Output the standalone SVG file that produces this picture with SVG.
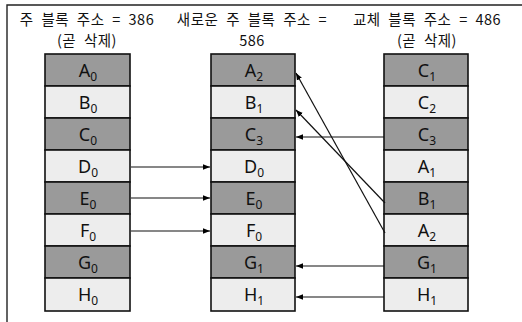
<svg xmlns="http://www.w3.org/2000/svg" width="522" height="322" viewBox="0 0 522 322">
<defs>
<marker id="ah" viewBox="0 0 10 10" refX="10" refY="5" markerWidth="7" markerHeight="7" orient="auto" markerUnits="userSpaceOnUse">
<path d="M0,1 L10,5 L0,9 z" fill="#000"/>
</marker>
</defs>
<style>
.t{font-family:"Noto Sans CJK KR","Noto Sans",sans-serif;font-size:14.5px;fill:#111;text-anchor:middle;word-spacing:4px;letter-spacing:0.5px}
.l{font-family:"Noto Sans","Liberation Sans",sans-serif;font-size:18px;fill:#111;text-anchor:middle}
.s{font-size:12px}
.d{fill:#9a9a9a;stroke:#111;stroke-width:1.6}
.w{fill:#ededed;stroke:#111;stroke-width:1.6}
.c{stroke:#111;stroke-width:1.2;fill:none;marker-end:url(#ah)}
</style>
<rect width="522" height="322" fill="#fff"/>
<path d="M7,322 V5 H522" fill="none" stroke="#222" stroke-width="1.4"/>
<g id="titles">
<text class="t" x="87" y="25">주 블록 주소 = 386</text>
<text class="t" x="87" y="46">(곧 삭제)</text>
<text class="t" x="252" y="25">새로운 주 블록 주소 =</text>
<text class="t" x="252" y="46">586</text>
<text class="t" x="427" y="25">교체 블록 주소 = 486</text>
<text class="t" x="427" y="46">(곧 삭제)</text>
</g>
<g id="main-old">
<rect class="d" x="45" y="54" width="85" height="32"/><text class="l" x="88" y="77">A<tspan class="s" dy="4">0</tspan></text>
<rect class="w" x="45" y="86" width="85" height="32"/><text class="l" x="88" y="109">B<tspan class="s" dy="4">0</tspan></text>
<rect class="d" x="45" y="118" width="85" height="32"/><text class="l" x="88" y="141">C<tspan class="s" dy="4">0</tspan></text>
<rect class="w" x="45" y="150" width="85" height="32"/><text class="l" x="88" y="173">D<tspan class="s" dy="4">0</tspan></text>
<rect class="d" x="45" y="182" width="85" height="32"/><text class="l" x="88" y="205">E<tspan class="s" dy="4">0</tspan></text>
<rect class="w" x="45" y="214" width="85" height="32"/><text class="l" x="88" y="237">F<tspan class="s" dy="4">0</tspan></text>
<rect class="d" x="45" y="246" width="85" height="32"/><text class="l" x="88" y="269">G<tspan class="s" dy="4">0</tspan></text>
<rect class="w" x="45" y="278" width="85" height="33"/><text class="l" x="88" y="301">H<tspan class="s" dy="4">0</tspan></text>
</g>
<g id="main-new">
<rect class="d" x="211" y="54" width="84" height="32"/><text class="l" x="254" y="77">A<tspan class="s" dy="4">2</tspan></text>
<rect class="w" x="211" y="86" width="84" height="32"/><text class="l" x="254" y="109">B<tspan class="s" dy="4">1</tspan></text>
<rect class="d" x="211" y="118" width="84" height="32"/><text class="l" x="254" y="141">C<tspan class="s" dy="4">3</tspan></text>
<rect class="w" x="211" y="150" width="84" height="32"/><text class="l" x="254" y="173">D<tspan class="s" dy="4">0</tspan></text>
<rect class="d" x="211" y="182" width="84" height="32"/><text class="l" x="254" y="205">E<tspan class="s" dy="4">0</tspan></text>
<rect class="w" x="211" y="214" width="84" height="32"/><text class="l" x="254" y="237">F<tspan class="s" dy="4">0</tspan></text>
<rect class="d" x="211" y="246" width="84" height="32"/><text class="l" x="254" y="269">G<tspan class="s" dy="4">1</tspan></text>
<rect class="w" x="211" y="278" width="84" height="33"/><text class="l" x="254" y="301">H<tspan class="s" dy="4">1</tspan></text>
</g>
<g id="replacement">
<rect class="d" x="384" y="54" width="84" height="32"/><text class="l" x="427" y="77">C<tspan class="s" dy="4">1</tspan></text>
<rect class="w" x="384" y="86" width="84" height="32"/><text class="l" x="427" y="109">C<tspan class="s" dy="4">2</tspan></text>
<rect class="d" x="384" y="118" width="84" height="32"/><text class="l" x="427" y="141">C<tspan class="s" dy="4">3</tspan></text>
<rect class="w" x="384" y="150" width="84" height="32"/><text class="l" x="427" y="173">A<tspan class="s" dy="4">1</tspan></text>
<rect class="d" x="384" y="182" width="84" height="32"/><text class="l" x="427" y="205">B<tspan class="s" dy="4">1</tspan></text>
<rect class="w" x="384" y="214" width="84" height="32"/><text class="l" x="427" y="237">A<tspan class="s" dy="4">2</tspan></text>
<rect class="d" x="384" y="246" width="84" height="32"/><text class="l" x="427" y="269">G<tspan class="s" dy="4">1</tspan></text>
<rect class="w" x="384" y="278" width="84" height="33"/><text class="l" x="427" y="301">H<tspan class="s" dy="4">1</tspan></text>
</g>
<g id="connectors">
<path class="c" d="M131,167 H210"/>
<path class="c" d="M131,198 H210"/>
<path class="c" d="M131,231 H210"/>
<path class="c" d="M384,137 H296"/>
<path class="c" d="M385,233 L296,73"/>
<path class="c" d="M385,203 L296,110"/>
<path class="c" d="M384,266 H296"/>
<path class="c" d="M384,297 H296"/>
</g>
</svg>
